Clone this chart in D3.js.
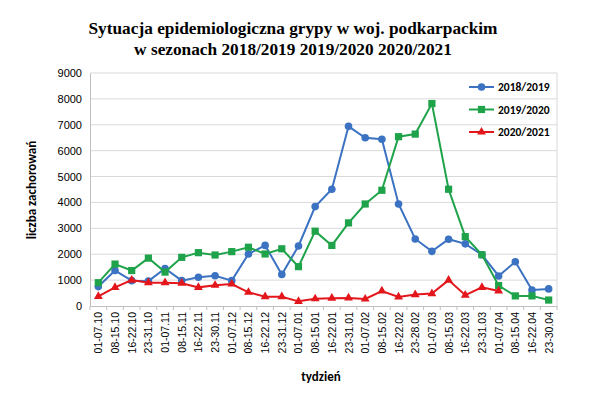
<!DOCTYPE html>
<html>
<head>
<style>
    body { margin: 0; background: #fff; }
    svg { display: block; font-family: Calibri, Carlito, "Open Sans", sans-serif; }
</style>
</head>
<body>
<svg width="600" height="394" id="chart"></svg>
<script src="https://cdn.jsdelivr.net/npm/d3@7"></script>
<script>
    let weeks = ["01-07.10", "08-15.10", "16-22.10", "23-31.10", "01-07.11", "08-15.11", "16-22.11",
        "23-30.11", "01-07.12", "08-15.12", "16-22.12", "23-31.12", "01-07.01", "08-15.01", "16-22.01",
        "23-31.01", "01-07.02", "08-15.02", "16-22.02", "23-28.02", "01-07.03", "08-15.03", "16-22.03",
        "23-31.03", "01-07.04", "08-15.04", "16-22.04", "23-30.04"];
    let s2018 = [750, 1370, 980, 960, 1450, 980, 1110, 1170, 980, 2010, 2340, 1220, 2320, 3840, 4510,
        6940, 6500, 6440, 3940, 2590, 2110, 2580, 2400, 1980, 1160, 1710, 620, 660];
    let s2019 = [900, 1620, 1370, 1850, 1310, 1880, 2060, 1970, 2100, 2270, 2010, 2210, 1520, 2890, 2340,
        3210, 3940, 4470, 6540, 6640, 7820, 4510, 2680, 1980, 790, 390, 390, 230];
    let s2020 = [370, 720, 1000, 900, 900, 880, 720, 800, 850, 530, 360, 360, 180, 280, 300,
        310, 270, 580, 350, 440, 480, 1000, 420, 720, 580];
    let yTicks = [0, 1000, 2000, 3000, 4000, 5000, 6000, 7000, 8000, 9000];

    let series = [
        { name: "2018/2019", values: s2018, color: "#3b72c2", shape: "circle" },
        { name: "2019/2020", values: s2019, color: "#1fa34a", shape: "square" },
        { name: "2020/2021", values: s2020, color: "#e3161c", shape: "triangle" }
    ];

    let svg = d3.select("#chart");
    let plotL = 90, plotR = 557, plotT = 73, plotB = 306;

    let x = d3.scaleBand().domain(weeks).range([plotL, plotR]);
    let y = d3.scaleLinear().domain([0, 9000]).range([plotB, plotT]);

    // title
    let title = svg.append("text")
        .attr("x", 293).attr("y", 34)
        .attr("text-anchor", "middle")
        .style("font-family", "'Liberation Serif', 'Times New Roman', serif")
        .style("font-weight", "bold").style("font-size", "17.3px");
    title.append("tspan").attr("x", 293).text("Sytuacja epidemiologiczna grypy w woj. podkarpackim");
    title.append("tspan").attr("x", 293).attr("dy", 21).text("w sezonach 2018/2019 2019/2020 2020/2021");

    // gridlines
    svg.append("g").selectAll("line")
        .data(yTicks.slice(1))
        .enter().append("line")
        .attr("x1", plotL).attr("x2", plotR)
        .attr("y1", d => y(d)).attr("y2", d => y(d))
        .attr("stroke", "#d9d9d9").attr("stroke-width", 1);
    svg.append("line")
        .attr("x1", plotR).attr("x2", plotR).attr("y1", plotT).attr("y2", plotB)
        .attr("stroke", "#d9d9d9");

    // y axis
    let yAxis = svg.append("g")
        .attr("transform", "translate(" + plotL + ",0)")
        .call(d3.axisLeft(y).tickValues(yTicks).tickFormat(d3.format("d")).tickSize(0).tickPadding(8));
    yAxis.select(".domain").attr("stroke", "#bfbfbf");
    yAxis.selectAll("text").style("font-size", "11px").attr("fill", "#000");

    // x axis
    let xAxis = svg.append("g")
        .attr("transform", "translate(0," + plotB + ")")
        .call(d3.axisBottom(x).tickSize(0).tickPadding(0));
    xAxis.select(".domain").attr("stroke", "#bfbfbf");
    xAxis.selectAll("text")
        .style("font-size", "10.5px").attr("fill", "#000")
        .attr("text-anchor", "end")
        .attr("dy", null).attr("y", 0)
        .attr("transform", "translate(0,5) rotate(-90)")
        .attr("x", -1).attr("dominant-baseline", "central");
    xAxis.append("g").selectAll("line")
        .data(weeks.concat(["end"]))
        .enter().append("line")
        .attr("x1", (d, i) => plotL + i * x.step()).attr("x2", (d, i) => plotL + i * x.step())
        .attr("y1", 0).attr("y2", 4)
        .attr("stroke", "#bfbfbf");

    // axis titles
    svg.append("text")
        .attr("transform", "translate(36,190) rotate(-90)")
        .attr("text-anchor", "middle")
        .style("font-weight", "bold").style("font-size", "13px")
        .text("liczba zachorowań");
    svg.append("text")
        .attr("x", 321).attr("y", 381)
        .attr("text-anchor", "middle")
        .style("font-weight", "bold").style("font-size", "13px")
        .text("tydzień");

    let cx = (d, i) => x(weeks[i]) + x.bandwidth() / 2;
    let line = d3.line().x(cx).y(d => y(d));

    function marker(g, shape, color) {
        if (shape === "circle") {
            g.append("circle").attr("r", 3.8).attr("fill", color);
        } else if (shape === "square") {
            g.append("rect").attr("x", -3.6).attr("y", -3.6).attr("width", 7.2).attr("height", 7.2).attr("fill", color);
        } else {
            g.append("path").attr("d", d3.symbol().type(d3.symbolTriangle).size(34)()).attr("fill", color);
        }
    }

    series.forEach(function (s) {
        svg.append("path")
            .datum(s.values)
            .attr("d", line)
            .attr("fill", "none")
            .attr("stroke", s.color)
            .attr("stroke-width", 2);
        svg.append("g").selectAll("g")
            .data(s.values)
            .enter().append("g")
            .attr("transform", (d, i) => "translate(" + cx(d, i) + "," + y(d) + ")")
            .each(function () { marker(d3.select(this), s.shape, s.color); });
    });

    // legend
    let legend = svg.append("g").selectAll("g")
        .data(series)
        .enter().append("g")
        .attr("transform", (d, i) => "translate(469," + (87 + i * 22.5) + ")");
    legend.append("line")
        .attr("x1", 0).attr("x2", 25)
        .attr("stroke", d => d.color).attr("stroke-width", 2);
    legend.each(function (d) {
        let g = d3.select(this).append("g").attr("transform", "translate(12.5,0)");
        marker(g, d.shape, d.color);
    });
    legend.append("text")
        .attr("x", 29).attr("dy", "0.35em")
        .style("font-weight", "bold").style("font-size", "11.5px")
        .text(d => d.name);
</script>
</body>
</html>
